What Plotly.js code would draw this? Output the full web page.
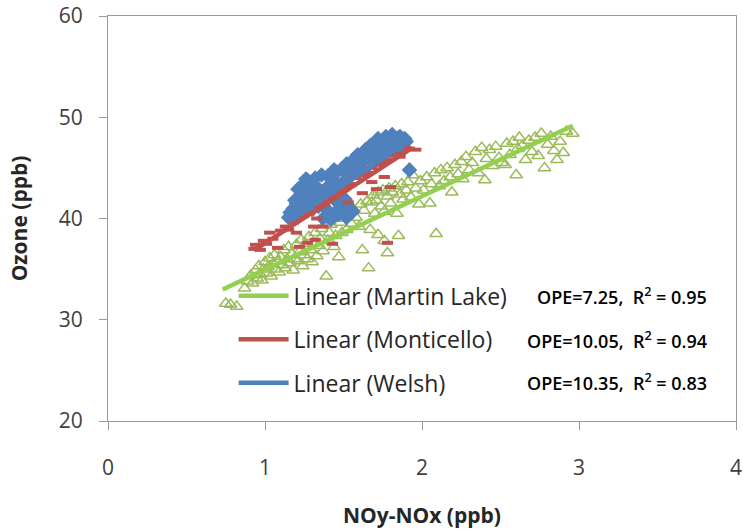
<!DOCTYPE html>
<html>
<head>
<meta charset="utf-8">
<script src="https://cdn.plot.ly/plotly-3.0.1.min.js"></script>
<style>
  html, body { margin: 0; padding: 0; background: #ffffff; }
  #chart { width: 743px; height: 529px; }
</style>
</head>
<body>
<div id="chart"></div>
<script>
// Ozone vs. NOy-NOx at three power-plant plumes

const siteNames = ['Martin Lake', 'Monticello', 'Welsh'];
const opeSlope = [7.25, 10.05, 10.35];       // ppb O3 per ppb NOz (fitted slope)
const rSquared = [0.95, 0.94, 0.83];
const fitIntercept = [27.7, 27.5, 27.8];
const fitXStart = [0.73, 0.93, 1.15];
const fitXEnd = [2.96, 1.94, 1.92];

// Martin Lake observations
const martinX = [0.75,0.78,0.82,0.87,0.89,0.91,0.92,0.94,0.95,0.96,0.97,0.98,0.99,1.00,1.01,1.02,1.03,1.04,1.05,1.06,
  1.07,1.08,1.09,1.10,1.11,1.12,1.13,1.14,1.15,1.16,1.17,1.18,1.19,1.20,1.21,1.22,1.23,1.24,1.25,1.26,
  1.27,1.28,1.29,1.30,1.31,1.32,1.33,1.34,1.35,1.36,1.37,1.39,1.40,1.41,1.42,1.44,1.45,1.47,1.48,1.49,
  1.50,1.52,1.53,1.55,1.56,1.58,1.60,1.61,1.62,1.63,1.65,1.66,1.67,1.68,1.69,1.70,1.71,1.72,1.72,1.74,
  1.75,1.76,1.76,1.78,1.78,1.79,1.80,1.81,1.83,1.84,1.85,1.86,1.87,1.88,1.90,1.91,1.93,1.94,1.96,1.98,
  1.99,2.01,2.03,2.05,2.06,2.08,2.09,2.11,2.12,2.14,2.16,2.18,2.19,2.21,2.23,2.25,2.26,2.28,2.30,2.32,
  2.34,2.36,2.38,2.40,2.41,2.43,2.45,2.47,2.49,2.51,2.53,2.54,2.56,2.58,2.60,2.61,2.62,2.64,2.66,2.68,
  2.70,2.72,2.74,2.76,2.78,2.80,2.82,2.84,2.86,2.88,2.90,2.92,2.96];
const martinY = [31.6,31.5,31.3,33.1,33.8,34.4,33.6,34.9,34.1,35.3,34.5,33.9,35.0,35.7,34.6,35.2,36.1,34.3,35.5,36.4,
  35.0,35.8,34.7,36.2,35.4,36.9,35.1,36.0,37.2,35.6,36.5,34.9,36.0,37.4,35.8,36.7,37.9,35.3,36.4,37.5,
  36.0,38.2,36.9,35.7,37.6,38.6,36.3,37.3,38.0,39.0,36.8,34.3,37.8,38.6,39.4,37.2,38.3,36.2,39.6,38.6,
  40.0,38.9,40.6,39.5,41.0,40.1,39.2,41.4,36.9,40.8,41.7,35.1,38.9,41.6,42.3,40.5,41.8,42.6,38.4,41.2,
  42.8,40.7,37.8,36.6,42.2,43.0,41.5,42.6,43.2,40.5,38.3,42.4,43.4,41.9,42.8,43.6,42.1,44.3,43.0,41.4,
  43.7,42.8,44.1,41.5,43.4,44.5,38.5,43.2,44.8,43.7,45.0,44.1,42.6,45.3,44.4,45.6,43.9,46.1,44.8,45.5,
  46.6,44.5,47.0,43.8,45.9,46.8,45.2,47.1,46.0,45.5,45.3,47.4,46.3,47.6,44.3,46.9,48.0,47.2,45.8,47.7,
  46.6,48.0,46.2,48.4,45.0,47.3,48.1,46.7,45.8,47.6,46.5,48.6,48.4];

// Monticello observations
const montX = [0.93,0.94,0.97,0.99,1.01,1.03,1.05,1.08,1.10,1.13,1.15,1.18,1.20,1.22,1.24,1.27,1.28,1.31,1.32,1.33,
  1.35,1.37,1.38,1.40,1.43,1.44,1.47,1.50,1.52,1.53,1.55,1.58,1.62,1.62,1.65,1.68,1.68,1.71,1.72,1.75,
  1.76,1.78,1.78,1.80,1.82,1.85,1.86,1.89,1.92,1.96];
const montY = [37.0,37.4,36.9,37.8,37.5,38.6,38.0,37.1,38.8,39.2,38.9,39.6,38.6,37.2,40.2,37.6,40.5,39.2,37.9,40.0,
  41.2,39.2,41.4,41.8,37.5,42.1,42.6,42.8,43.1,41.6,43.4,44.0,42.5,44.3,44.5,43.6,45.0,42.9,45.3,45.5,
  44.1,37.6,45.8,43.1,46.2,46.4,46.1,47.1,46.9,46.8];

// Welsh observations
const welshX = [1.15,1.16,1.18,1.18,1.20,1.22,1.22,1.24,1.25,1.27,1.27,1.29,1.30,1.31,1.33,1.33,1.35,1.36,1.37,1.39,
  1.40,1.41,1.42,1.43,1.44,1.45,1.46,1.48,1.48,1.50,1.50,1.52,1.52,1.54,1.54,1.56,1.56,1.58,1.60,1.61,
  1.63,1.65,1.66,1.68,1.70,1.71,1.73,1.75,1.76,1.78,1.80,1.82,1.83,1.85,1.87,1.88,1.90,1.92,
  1.19,1.21,1.23,1.26,1.28,1.30,1.32,1.34,1.36,1.38,1.40,1.42,1.44,1.46,1.47,1.49,1.51,1.53,1.55,1.57,
  1.59,1.62,1.64,1.67,1.69,1.72,1.74,1.77,1.79,1.81,1.84,1.86,1.89];
const welshY = [40.1,40.6,41.0,40.0,41.5,42.1,40.5,43.3,42.6,43.8,41.3,42.8,40.9,42.3,43.1,41.8,42.5,44.3,40.0,43.0,
  40.8,42.4,39.9,43.8,41.9,40.6,44.6,43.3,41.1,43.6,40.6,45.4,40.1,44.1,41.0,45.1,40.7,44.6,45.3,46.1,
  44.8,46.5,45.9,46.8,46.2,47.5,46.5,47.1,47.6,46.9,47.8,47.3,46.7,48.0,47.5,46.9,47.6,44.8,
  41.8,42.9,41.2,43.9,41.9,43.5,44.0,41.2,41.5,42.0,44.2,43.2,44.8,42.2,40.4,44.9,41.9,44.6,45.6,45.9,
  46.3,45.6,46.8,47.2,46.1,47.9,46.8,48.1,47.0,48.3,47.8,48.1,47.9];

const markerColor = ['#9BBB59', '#C0504D', '#4F81BD'];
const fitColor = ['#92D050', '#C0504D', '#4F81BD'];
const FONT = 'Open Sans, Lato, sans-serif';

function fitLine(i) {
  const xs = [fitXStart[i], fitXEnd[i]];
  return {
    x: xs,
    y: xs.map(v => opeSlope[i] * v + fitIntercept[i]),
    type: 'scatter', mode: 'lines',
    name: 'Linear (' + siteNames[i] + ')',
    legendgroup: 'g' + i,
    legendrank: i + 1,
    line: { color: fitColor[i], width: 4.5 },
    hoverinfo: 'skip'
  };
}

const traces = [
  { x: martinX, y: martinY, type: 'scatter', mode: 'markers', name: siteNames[0], showlegend: false,
    marker: { symbol: 'triangle-up-open', size: 11, color: markerColor[0], line: { width: 1.5, color: markerColor[0] } } },
  { x: welshX, y: welshY, type: 'scatter', mode: 'markers', name: siteNames[2], showlegend: false,
    marker: { symbol: 'diamond', size: 12, color: markerColor[2], line: { width: 0 } } },
  { x: montX, y: montY, type: 'scatter', mode: 'markers', name: siteNames[1], showlegend: false,
    marker: { symbol: 'line-ew', size: 8, color: markerColor[1], line: { width: 4, color: markerColor[1] } } },
  fitLine(0),
  fitLine(2),
  fitLine(1)
];

const statY = [0.309, 0.2, 0.096];
const annotations = opeSlope.map((s, i) => ({
  xref: 'paper', yref: 'paper', x: 0.957, y: statY[i], xanchor: 'right', yanchor: 'middle',
  text: 'OPE=' + s.toFixed(2) + ',\u00a0 R<sup>2</sup> = ' + rSquared[i].toFixed(2),
  showarrow: false,
  font: { family: FONT, size: 18, color: '#000000', weight: 600 }
}));

const layout = {
  width: 743, height: 529,
  margin: { l: 108, r: 7, t: 16, b: 108, pad: 0 },
  paper_bgcolor: '#ffffff', plot_bgcolor: '#ffffff',
  showlegend: true,
  legend: {
    x: 0.2, y: 0.362, xanchor: 'left', yanchor: 'top',
    bgcolor: 'rgba(0,0,0,0)', borderwidth: 0,
    traceorder: 'grouped', tracegroupgap: 10.5, itemwidth: 50,
    font: { family: FONT, size: 23, color: '#262626' }
  },
  xaxis: {
    range: [0, 4], dtick: 1, tick0: 0, showgrid: false, zeroline: false,
    showline: true, linecolor: '#9a9a9a', linewidth: 1, mirror: true,
    ticks: 'outside', ticklen: 8, tickcolor: '#9a9a9a', ticklabelstandoff: 20,
    tickfont: { family: FONT, size: 21, color: '#404040' },
    title: { text: 'NOy-NOx (ppb)', standoff: 30, font: { family: FONT, size: 21, color: '#262626', weight: 'bold' } }
  },
  yaxis: {
    range: [20, 60], dtick: 10, tick0: 20, showgrid: false, zeroline: false,
    showline: true, linecolor: '#9a9a9a', linewidth: 1, mirror: true,
    ticks: 'outside', ticklen: 8, tickcolor: '#9a9a9a', ticklabelstandoff: 12,
    tickfont: { family: FONT, size: 21, color: '#404040' },
    title: { text: 'Ozone (ppb)', standoff: 25, font: { family: FONT, size: 21, color: '#262626', weight: 'bold' } }
  },
  annotations: annotations
};

Plotly.newPlot('chart', traces, layout, { staticPlot: true, displayModeBar: false });
</script>
</body>
</html>
